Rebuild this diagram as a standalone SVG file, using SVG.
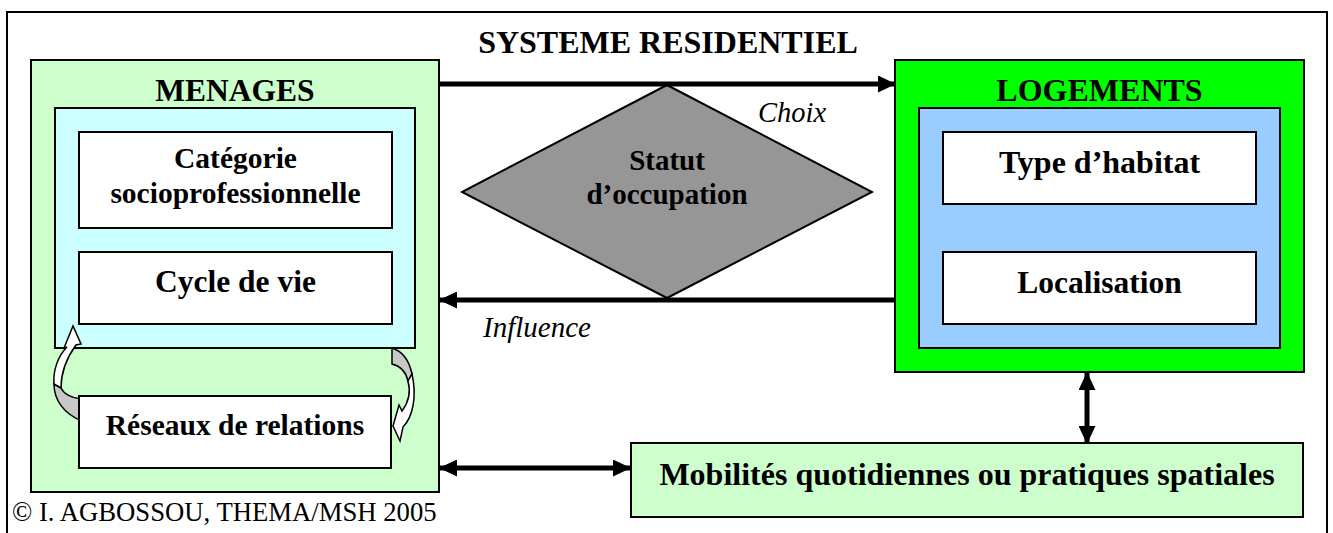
<svg xmlns="http://www.w3.org/2000/svg" width="1333" height="533" viewBox="0 0 1333 533">
<style>
.t{font-family:"Liberation Serif","Times New Roman",serif;font-weight:bold;fill:#000;text-anchor:middle}
.i{font-family:"Liberation Serif","Times New Roman",serif;font-style:italic;fill:#000}
.c{font-family:"Liberation Serif","Times New Roman",serif;fill:#000}
.box{stroke:#000;stroke-width:2}
.conn{stroke:#000;stroke-width:5;fill:none}
.curve{stroke:#000;stroke-width:1.5}
</style>
<defs>
<marker id="ah" viewBox="0 0 18 17" refX="17" refY="8.5" markerWidth="18" markerHeight="17" markerUnits="userSpaceOnUse" orient="auto-start-reverse">
<path d="M0,0 L18,8.5 L0,17 Z" fill="#000"/>
</marker>
</defs>
<rect width="1333" height="533" fill="#fff"/>
<rect x="7" y="12" width="1320" height="540" fill="none" stroke="#000" stroke-width="2"/>
<text class="t" x="668" y="53" font-size="32">SYSTEME RESIDENTIEL</text>

<g id="menages">
<rect class="box" x="31" y="60" width="408" height="432" fill="#CCFFCC"/>
<text class="t" x="235" y="101" font-size="31.5">MENAGES</text>
<rect class="box" x="55" y="108" width="360" height="240" fill="#CCFFFF"/>
</g>
<g id="categorie">
<rect class="box" x="79" y="132" width="313" height="96" fill="#fff"/>
<text class="t" x="235.5" y="168" font-size="29.5">Catégorie</text>
<text class="t" x="235.5" y="203" font-size="29.5">socioprofessionnelle</text>
</g>
<g id="cycle">
<rect class="box" x="79" y="252" width="313" height="72" fill="#fff"/>
<text class="t" x="235.5" y="292" font-size="31.5">Cycle de vie</text>
</g>
<g id="curve-left">
<path class="curve" fill="#C8C8C8" d="M54,384 C54,400 64,414 82,421 L82,399 C72,398 64,394 61,388 Z"/>
<path class="curve" fill="#fff" d="M54,384 C53,370 58,356 67,347 L64,348 L73,326 L81,344 L76,345 C68,356 61,370 61,388 Z"/>
</g>
<g id="curve-right">
<path class="curve" fill="#C8C8C8" d="M392,348 L392,364 C400,366 406,372 408,381 L412,374 C409,360 402,351 392,348 Z"/>
<path class="curve" fill="#fff" d="M408,381 C411,392 408,403 402,411 L399,405 L393,426 L400,441 L403,427 C413,417 417,396 412,374 Z"/>
</g>
<g id="reseaux">
<rect class="box" x="79" y="396" width="312" height="72" fill="#fff"/>
<text class="t" x="235" y="435" font-size="29.5">Réseaux de relations</text>
</g>

<g id="logements">
<rect class="box" x="895" y="60" width="409" height="312" fill="#00FF00"/>
<text class="t" x="1099.5" y="101" font-size="32">LOGEMENTS</text>
<rect class="box" x="919" y="108" width="361" height="240" fill="#99CCFF"/>
</g>
<g id="type">
<rect class="box" x="943" y="132" width="313" height="72" fill="#fff"/>
<text class="t" x="1099.5" y="173" font-size="32">Type d’habitat</text>
</g>
<g id="localisation">
<rect class="box" x="943" y="252" width="313" height="72" fill="#fff"/>
<text class="t" x="1099.5" y="293" font-size="31.5">Localisation</text>
</g>

<g id="statut">
<polygon points="667,85 872,192 667,298 462,192" fill="#969696" stroke="#000" stroke-width="2"/>
<text class="t" x="667" y="170" font-size="29">Statut</text>
<text class="t" x="667" y="204" font-size="29">d’occupation</text>
</g>

<g id="mobilites">
<rect class="box" x="631" y="443" width="672" height="74" fill="#CCFFCC"/>
<text class="t" x="967" y="485" font-size="32">Mobilités quotidiennes ou pratiques spatiales</text>
</g>

<g id="connectors">
<line class="conn" x1="439" y1="84" x2="895" y2="84" marker-end="url(#ah)"/>
<line class="conn" x1="895" y1="300" x2="440" y2="300" marker-end="url(#ah)"/>
<line class="conn" x1="440" y1="468" x2="630" y2="468" marker-start="url(#ah)" marker-end="url(#ah)"/>
<line class="conn" x1="1087" y1="373" x2="1087" y2="443" marker-start="url(#ah)" marker-end="url(#ah)"/>
<text class="i" x="758" y="122" font-size="28.5">Choix</text>
<text class="i" x="483" y="337" font-size="29">Influence</text>
</g>

<text class="c" x="12" y="521" font-size="26.7">© I. AGBOSSOU, THEMA/MSH 2005</text>
</svg>
